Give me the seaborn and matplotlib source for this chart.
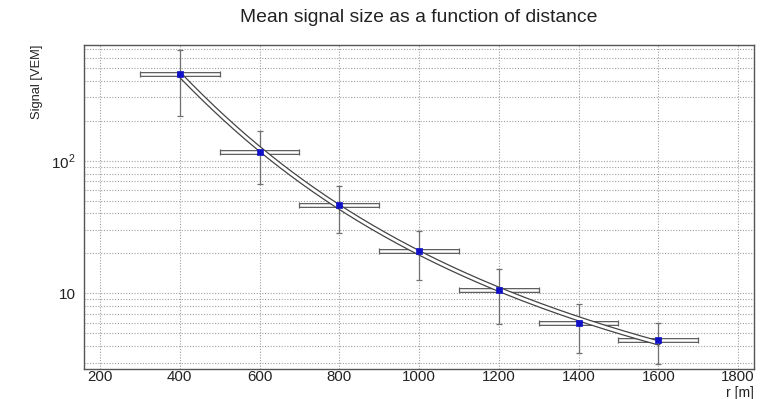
import numpy as np
import pandas as pd
import matplotlib
matplotlib.use("Agg")
import matplotlib.pyplot as plt
import matplotlib.ticker as mticker
import seaborn as sns

# ---- data ----
r_m = [400, 600, 800, 1000, 1200, 1400, 1600]
signal_vem = [451, 117, 46.7, 21.0, 10.5, 5.95, 4.43]
signal_err = [235, 50, 18, 8.5, 4.6, 2.4, 1.5]
r_halfbin = [100, 100, 100, 100, 100, 100, 100]
x_ticks = [200, 400, 600, 800, 1000, 1200, 1400, 1600, 1800]
y_ticks = [10, 100]
y_tick_labels = ["10", "$10^2$"]

sns.set_style("white")
plt.rcParams["font.family"] = ["Liberation Sans", "DejaVu Sans"]
plt.rcParams["mathtext.fontset"] = "custom"
plt.rcParams["mathtext.rm"] = "Liberation Sans"

df = pd.DataFrame({"r": r_m, "S": signal_vem})

# fit of log S vs log r (from data)
coef = np.polyfit(np.log10(r_m), np.log10(signal_vem), 3)
rf = np.linspace(min(r_m), max(r_m), 300)
fit_df = pd.DataFrame({"r": rf, "S": 10 ** np.polyval(coef, np.log10(rf))})

fig = plt.figure(figsize=(7.75, 3.99), dpi=100)
ax = fig.add_axes([0.1084, 0.0752, 0.8646, 0.8118])
ax.set_yscale("log")
ax.set_xlim(160, 1840)
ax.set_ylim(2.68, 745)

# grid
ax.set_xticks(x_ticks)
ax.xaxis.set_minor_locator(mticker.MultipleLocator(50))
ax.yaxis.set_major_locator(mticker.FixedLocator(y_ticks))
ax.yaxis.set_major_formatter(mticker.FixedFormatter(y_tick_labels))
ax.yaxis.set_minor_locator(mticker.LogLocator(base=10, subs=np.arange(2, 10), numticks=20))
ax.yaxis.set_minor_formatter(mticker.NullFormatter())
ax.grid(True, which="major", axis="x", color="#a0a0a0", ls=(0, (1, 1.5)), lw=0.8)
ax.grid(True, which="both", axis="y", color="#a0a0a0", ls=(0, (1, 1.5)), lw=0.8)

# horizontal error bars drawn as outlined boxes
ax.errorbar(r_m, signal_vem, xerr=r_halfbin, fmt="none", ecolor="#606060",
            elinewidth=3.6, capsize=0, zorder=3)
ax.errorbar(r_m, signal_vem, xerr=r_halfbin, fmt="none", ecolor="white",
            elinewidth=1.8, capsize=0, zorder=3.1)
ax.errorbar(r_m, signal_vem, xerr=r_halfbin, fmt="none", ecolor="#606060",
            elinewidth=0, capsize=2.2, capthick=0.9, zorder=3.2)
# vertical error bars
ax.errorbar(r_m, signal_vem, yerr=signal_err, fmt="none", ecolor="#707070",
            elinewidth=0.9, capsize=2, capthick=0.9, zorder=3.3)

# fit curve drawn as a double line
sns.lineplot(data=fit_df, x="r", y="S", ax=ax, color="#444444", lw=3.8, zorder=4)
sns.lineplot(data=fit_df, x="r", y="S", ax=ax, color="white", lw=2.0, zorder=4.1)

sns.scatterplot(data=df, x="r", y="S", ax=ax, marker="s", s=20, color="#1010c8",
                edgecolor="#1010c8", linewidth=0.5, zorder=5)

ax.set_xlabel("")
ax.set_ylabel("")
for sp in ax.spines.values():
    sp.set_color("#555555")
    sp.set_linewidth(1.0)

ax.tick_params(axis="both", which="both", direction="in", colors="#555555",
               labelcolor="#222222", labelsize=11)
ax.tick_params(axis="y", which="major", length=20, width=0.9, pad=6)
ax.tick_params(axis="y", which="minor", length=10, width=0.8)
ax.tick_params(axis="x", which="major", length=12, width=0.8, pad=1, labelsize=10.8)
ax.tick_params(axis="x", which="minor", length=6, width=0.8)

fig.text(0.54, 0.955, "Mean signal size as a function of distance", ha="center",
         va="center", fontsize=13.9, color="#222222")
fig.text(0.048, 0.887, "Signal [VEM]", rotation=90, ha="center", va="top",
         fontsize=9.3, color="#222222")
fig.text(0.973, 0.006, "r [m]", ha="right", va="baseline", fontsize=10,
         color="#222222")

fig.savefig("out.png", dpi=100)
